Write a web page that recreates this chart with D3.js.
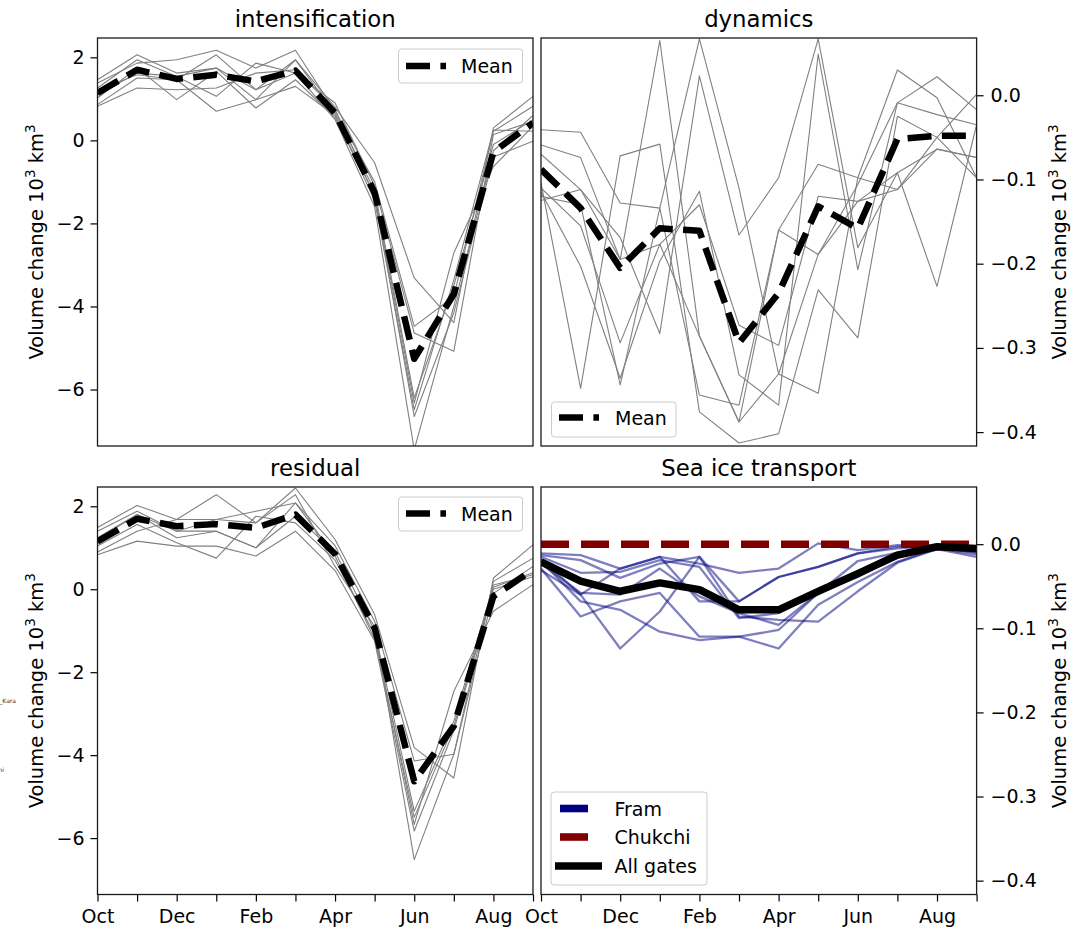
<!DOCTYPE html>
<html>
<head>
<meta charset="utf-8">
<script src="https://cdn.jsdelivr.net/npm/d3@7"></script>
<style>
  body { margin: 0; background: #fff; }
  svg { font-family: "DejaVu Sans", sans-serif; }
</style>
</head>
<body>
<div id="chart"></div>
<script>
// months along x, Oct .. Sep
const months = ["Oct", "Nov", "Dec", "Jan", "Feb", "Mar", "Apr", "May", "Jun", "Jul", "Aug", "Sep"];
const volTicks = [2, 0, -2, -4, -6];
const transTicks = [0, -0.1, -0.2, -0.3, -0.4];

// intensification (10^3 km^3)
const intensMean = [1.14, 1.70, 1.48, 1.58, 1.42, 1.68, 0.66, -1.26, -5.26, -3.70, -0.28, 0.42];
const intensMembers = [
    [1.46, 2.06, 1.62, 1.74, 1.22, 1.94, 0.80, -0.54, -3.31, -4.39, 0.30, 1.06],
    [1.38, 1.86, 1.94, 2.17, 1.74, 2.17, 0.70, -1.00, -4.48, -3.76, 0.22, 0.82],
    [1.26, 1.94, 1.54, 1.06, 1.86, 1.62, 0.90, -1.10, -4.64, -5.08, 0.14, 0.46],
    [1.02, 1.74, 0.98, 1.66, 0.78, 1.46, 0.55, -1.30, -6.33, -2.71, -0.63, 0.34],
    [0.86, 1.50, 1.46, 0.70, 0.98, 1.30, 0.60, -1.45, -6.49, -3.36, 0.25, 0.22],
    [0.82, 1.26, 1.22, 1.26, 1.62, 1.70, 0.75, -1.35, -6.65, -4.15, -0.40, -0.02],
    [1.20, 1.58, 1.46, 2.06, 1.22, 1.62, 0.50, -1.60, -7.45, -4.00, -0.25, 0.60],
    [1.10, 1.62, 1.54, 1.74, 0.98, 1.94, 0.65, -1.20, -6.20, -3.50, -0.10, 0.50]
];

// dynamics
const dynMean = [-0.088, -0.134, -0.205, -0.158, -0.161, -0.294, -0.235, -0.132, -0.158, -0.052, -0.048, -0.048];
const dynMembers = [
    [-0.041, -0.044, -0.128, -0.134, 0.067, -0.110, -0.331, -0.354, -0.098, 0.030, -0.003, -0.098],
    [-0.059, -0.074, -0.195, 0.065, -0.286, -0.388, -0.160, -0.189, -0.106, -0.009, 0.022, -0.017],
    [-0.070, -0.112, -0.169, -0.283, 0.023, -0.166, -0.098, 0.067, -0.181, -0.092, -0.227, -0.035],
    [-0.104, -0.348, -0.072, -0.058, -0.376, -0.413, -0.402, -0.231, -0.288, -0.025, -0.050, 0.001],
    [-0.110, -0.155, -0.294, -0.177, -0.130, -0.273, -0.297, -0.120, -0.126, -0.112, -0.064, -0.074],
    [-0.115, -0.203, -0.336, -0.197, -0.114, -0.332, -0.368, 0.049, -0.207, -0.009, -0.023, -0.035],
    [-0.120, -0.130, -0.344, -0.134, -0.356, -0.368, -0.160, -0.082, -0.098, -0.112, -0.050, -0.098],
    [-0.125, -0.112, -0.195, -0.177, -0.286, -0.388, -0.331, -0.189, -0.126, -0.092, -0.064, -0.074]
];

// residual
const residMean = [1.15, 1.70, 1.52, 1.57, 1.48, 1.80, 0.85, -0.93, -4.63, -3.30, -0.17, 0.47];
const residMembers = [
    [1.49, 2.02, 1.68, 2.28, 1.60, 2.44, 1.20, -0.61, -3.82, -4.55, 0.27, 1.07],
    [1.40, 1.88, 1.40, 1.68, 1.88, 2.08, 1.05, -0.77, -4.14, -3.98, 0.19, 0.75],
    [1.24, 1.80, 1.24, 1.40, 1.00, 1.76, 0.90, -1.00, -5.35, -3.18, 0.10, 0.35],
    [1.04, 1.56, 1.12, 0.75, 1.76, 1.60, 0.70, -1.10, -5.67, -2.46, -0.53, 0.11],
    [0.83, 1.16, 1.04, 1.04, 0.80, 1.40, 0.45, -1.25, -5.83, -3.40, 0.00, 0.30],
    [0.90, 1.40, 1.68, 1.68, 1.60, 2.28, 0.55, -0.90, -6.52, -3.98, -0.10, 0.55],
    [1.20, 1.80, 1.40, 1.40, 1.00, 2.08, 0.80, -1.20, -5.50, -3.30, 0.05, 0.40]
];

// sea ice transport through the gates
const allGates = [-0.021, -0.044, -0.056, -0.046, -0.054, -0.078, -0.078, -0.056, -0.035, -0.013, -0.003, -0.005];
const chukchi = [0, 0, 0, 0, 0, 0, 0, 0, 0, 0, 0, 0];
const framMembers = [
    [-0.011, -0.013, -0.029, -0.015, -0.023, -0.034, -0.029, 0.001, -0.007, -0.001, -0.002, -0.005],
    [-0.013, -0.019, -0.040, -0.023, -0.015, -0.068, -0.039, -0.027, -0.011, -0.003, -0.002, -0.006],
    [-0.015, -0.034, -0.033, -0.019, -0.027, -0.088, -0.082, -0.058, -0.020, -0.010, -0.003, -0.008],
    [-0.023, -0.058, -0.060, -0.029, -0.062, -0.082, -0.096, -0.058, -0.039, -0.014, -0.004, -0.010],
    [-0.029, -0.086, -0.068, -0.058, -0.110, -0.110, -0.124, -0.072, -0.045, -0.021, -0.005, -0.012],
    [-0.031, -0.060, -0.124, -0.080, -0.015, -0.086, -0.090, -0.092, -0.056, -0.022, -0.006, -0.015],
    [-0.020, -0.068, -0.078, -0.104, -0.114, -0.110, -0.102, -0.058, -0.035, -0.016, -0.003, -0.009],
    [-0.018, -0.060, -0.029, -0.015, -0.068, -0.068, -0.039, -0.027, -0.011, -0.005, -0.002, -0.004]
];

const width = 1079, height = 930;
const svg = d3.select("#chart").append("svg")
    .attr("width", width)
    .attr("height", height);

//panel boxes
const colX = [[97.5, 533], [541, 976.6]];
const rowY = [[38, 446], [487, 894.5]];
const volDomain = [-7.36, 2.465];
const transDomain = [-0.4165, 0.068];

const fmtVol = d3.format("d");
const fmtTrans = d3.format(".1f");

let clipCount = 0;

function makePanel(col, row, title, yDomain, yTicks, fmt, side, showX){
    const [x0, x1] = colX[col];
    const [y0, y1] = rowY[row];
    const x = d3.scaleLinear().domain([0, 11]).range([x0, x1]);
    const y = d3.scaleLinear().domain(yDomain).range([y1, y0]);

    const g = svg.append("g");
    const clipId = "clip" + (clipCount++);
    g.append("clipPath").attr("id", clipId)
        .append("rect")
        .attr("x", x0).attr("y", y0)
        .attr("width", x1 - x0).attr("height", y1 - y0);

    const plot = g.append("g").attr("clip-path", `url(#${clipId})`);

    //y axis
    const yAxis = (side === "left" ? d3.axisLeft(y) : d3.axisRight(y))
        .tickValues(yTicks)
        .tickSize(7)
        .tickPadding(side === "left" ? 6 : 7)
        .tickFormat(fmt);
    const ya = g.append("g")
        .attr("transform", `translate(${side === "left" ? x0 : x1},0)`)
        .call(yAxis);
    styleAxis(ya);

    //x axis only on bottom row
    if(showX){
        const xAxis = d3.axisBottom(x)
            .tickValues(d3.range(12))
            .tickSize(7)
            .tickPadding(8.5)
            .tickFormat(i => i % 2 === 0 ? months[i] : "");
        const xa = g.append("g")
            .attr("transform", `translate(0,${y1})`)
            .call(xAxis);
        styleAxis(xa);
    }

    //spines
    g.append("rect")
        .attr("x", x0).attr("y", y0)
        .attr("width", x1 - x0).attr("height", y1 - y0)
        .attr("fill", "none")
        .attr("stroke", "#1a1a1a")
        .attr("stroke-width", 1.3);

    //title
    g.append("text")
        .attr("x", (x0 + x1) / 2)
        .attr("y", y0 - 11.5)
        .attr("text-anchor", "middle")
        .attr("font-size", 22.8)
        .attr("fill", "#000")
        .text(title);

    //y label, reads bottom to top
    const lx = side === "left" ? 43 : 1065.5;
    const label = g.append("text")
        .attr("transform", `translate(${lx},${(y0 + y1) / 2}) rotate(-90)`)
        .attr("text-anchor", "middle")
        .attr("font-size", 19.5)
        .attr("fill", "#000");
    label.append("tspan").text("Volume change 10");
    label.append("tspan").attr("dy", -8).attr("font-size", 13.5).text("3");
    label.append("tspan").attr("dy", 8).text(" km");
    label.append("tspan").attr("dy", -8).attr("font-size", 13.5).text("3");

    return {g, plot, x, y};
}

function styleAxis(sel){
    sel.select(".domain").remove();
    sel.selectAll(".tick line").attr("stroke", "#000").attr("stroke-width", 1.2);
    sel.selectAll(".tick text")
        .attr("font-size", 19)
        .attr("font-family", "DejaVu Sans, sans-serif")
        .attr("fill", "#000");
}

function drawLine(panel, values, stroke, widthPx, opts = {}){
    const line = d3.line()
        .x((d, i) => panel.x(i))
        .y(d => panel.y(d));
    const p = panel.plot.append("path")
        .datum(values)
        .attr("d", line)
        .attr("fill", "none")
        .attr("stroke", stroke)
        .attr("stroke-width", widthPx)
        .attr("stroke-linejoin", "round");
    if(opts.dash) p.attr("stroke-dasharray", opts.dash);
    if(opts.opacity) p.attr("stroke-opacity", opts.opacity);
    return p;
}

function drawLegend(bx, by, bw, bh, entries){
    const lg = svg.append("g");
    lg.append("rect")
        .attr("x", bx).attr("y", by)
        .attr("width", bw).attr("height", bh)
        .attr("rx", 3)
        .attr("fill", "#fff").attr("fill-opacity", 0.8)
        .attr("stroke", "#cccccc").attr("stroke-width", 1);
    entries.forEach(e => {
        const s = lg.append("line")
            .attr("x1", e.x1).attr("x2", e.x2)
            .attr("y1", e.y).attr("y2", e.y)
            .attr("stroke", e.color)
            .attr("stroke-width", e.width);
        if(e.dash) s.attr("stroke-dasharray", e.dash);
        lg.append("text")
            .attr("x", e.tx).attr("y", e.y + 7)
            .attr("font-size", 19)
            .attr("fill", "#000")
            .text(e.label);
    });
}

const meanDash = "24,10.4";
const gray = "#808080";

// intensification
const p1 = makePanel(0, 0, "intensification", volDomain, volTicks, fmtVol, "left", false);
intensMembers.forEach(m => drawLine(p1, m, gray, 1.1));
drawLine(p1, intensMean, "#000", 6.5, {dash: meanDash});
drawLegend(398.5, 49, 124, 34, [{x1: 406, x2: 446, y: 66, color: "#000", width: 6.5, dash: meanDash, tx: 461, label: "Mean"}]);

// dynamics
const p2 = makePanel(1, 0, "dynamics", transDomain, transTicks, fmtTrans, "right", false);
dynMembers.forEach(m => drawLine(p2, m, gray, 1.1));
drawLine(p2, dynMean, "#000", 6.5, {dash: meanDash});
drawLegend(551.5, 402, 124.5, 35, [{x1: 559, x2: 599, y: 417.5, color: "#000", width: 6.5, dash: meanDash, tx: 615, label: "Mean"}]);

// residual
const p3 = makePanel(0, 1, "residual", volDomain, volTicks, fmtVol, "left", true);
residMembers.forEach(m => drawLine(p3, m, gray, 1.1));
drawLine(p3, residMean, "#000", 6.5, {dash: meanDash});
drawLegend(398.5, 497, 124, 34, [{x1: 406, x2: 446, y: 513.5, color: "#000", width: 6.5, dash: meanDash, tx: 461, label: "Mean"}]);

// sea ice transport
const p4 = makePanel(1, 1, "Sea ice transport", transDomain, transTicks, fmtTrans, "right", true);
framMembers.forEach(m => drawLine(p4, m, "#000080", 2.3, {opacity: 0.5}));
drawLine(p4, chukchi, "#800000", 7.6, {dash: "28,12"});
drawLine(p4, allGates, "#000", 7.5);
drawLegend(551, 792, 156, 93, [
    {x1: 560, x2: 600, y: 808.5, color: "#000080", width: 7.6, dash: "28,12", tx: 614.5, label: "Fram"},
    {x1: 560, x2: 600, y: 837, color: "#800000", width: 7.6, dash: "28,12", tx: 614.5, label: "Chukchi"},
    {x1: 555, x2: 602, y: 866, color: "#000", width: 7.5, tx: 614.5, label: "All gates"}
]);

//clipped leftovers of another legend at the far left edge
svg.append("text").attr("x", 16).attr("y", 703)
    .attr("text-anchor", "end").attr("font-size", 6).attr("fill", "#333").text("_Kara");
svg.append("text").attr("x", 4).attr("y", 772)
    .attr("text-anchor", "end").attr("font-size", 6).attr("fill", "#333").text("ni");
</script>
</body>
</html>
